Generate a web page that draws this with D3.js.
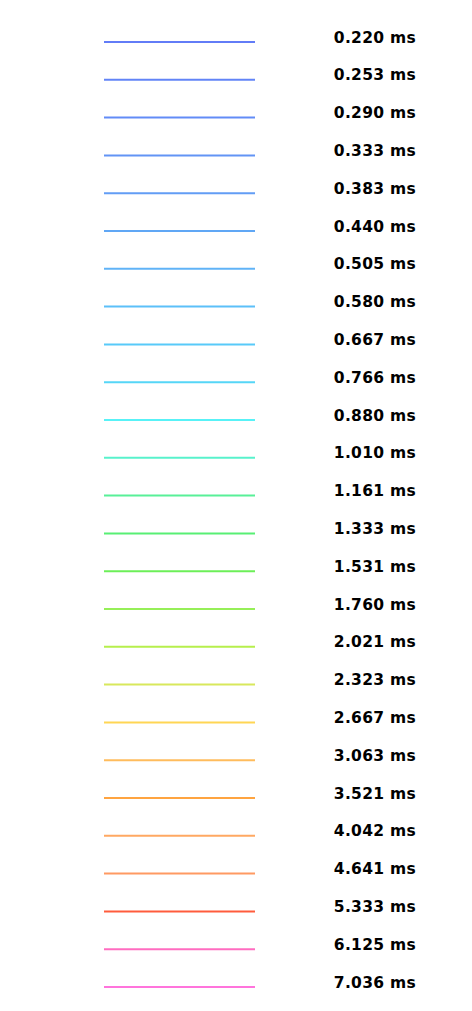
<!DOCTYPE html>
<html>
<head>
<meta charset="utf-8">
<script src="https://cdn.jsdelivr.net/npm/d3@7"></script>
<style>
    body { margin: 0; background: #fff; }
    svg { display: block; }
</style>
</head>
<body>
<svg id="legend" width="472" height="1011"></svg>
<script>
// legend entries (durations in ms) and their swatch colours
const durations = [0.220, 0.253, 0.290, 0.333, 0.383, 0.440, 0.505, 0.580, 0.667, 0.766,
    0.880, 1.010, 1.161, 1.333, 1.531, 1.760, 2.021, 2.323, 2.667, 3.063,
    3.521, 4.042, 4.641, 5.333, 6.125, 7.036];

const colors = ["#627cf7", "#6284f7", "#628cf7", "#6294f5", "#629df5", "#60a7f5", "#60b3f7", "#5cc0f9", "#58caf9", "#56d6f7",
    "#58f2f7", "#58f2cc", "#58f098", "#58ef74", "#6cef58", "#96ef58", "#b6ef4c", "#d8e85c", "#ffd654", "#ffbc5c",
    "#ffa440", "#ffa862", "#ff9a62", "#ff5c3c", "#ff6cc0", "#ff74dc"];

const renderLegend = () => {
    const svg = d3.select("#legend");

    const labels = durations.map(d => d.toFixed(3) + " ms");

    const y = d3.scalePoint()
        .domain(labels)
        .range([42, 987]);

    const x = d3.scaleLinear()
        .domain([0, 1])
        .range([104, 255]);

    const rows = svg.selectAll("g.row")
        .data(labels)
        .enter()
        .append("g")
        .attr("class", "row")
        .attr("transform", d => `translate(0,${y(d)})`);

    rows.append("line")
        .attr("x1", x(0))
        .attr("x2", x(1))
        .attr("y1", 0)
        .attr("y2", 0)
        .attr("stroke", (d, i) => colors[i])
        .attr("stroke-width", 2);

    rows.append("text")
        .attr("x", 416)
        .attr("y", 0.5)
        .attr("text-anchor", "end")
        .style("font-family", "'DejaVu Sans', Verdana, sans-serif")
        .style("font-weight", "bold")
        .style("font-size", "15.5px")
        .style("letter-spacing", "0.3px")
        .style("fill", "#000")
        .text(d => d);
}

renderLegend();
</script>
</body>
</html>
